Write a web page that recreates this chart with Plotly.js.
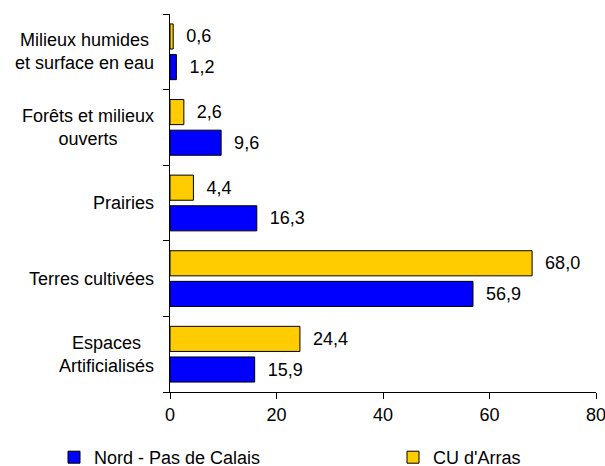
<!DOCTYPE html>
<html>
<head>
<meta charset="utf-8">
<script src="https://cdn.plot.ly/plotly-3.0.1.min.js"></script>
<style>html,body{margin:0;padding:0;background:#fff;}#chart{width:605px;height:466px;}</style>
</head>
<body>
<div id="chart"></div>
<script>
// Categories listed bottom to top
var categories = ["Espaces<br>Artificialisés", "Terres cultivées", "Prairies", "Forêts et milieux<br>ouverts", "Milieux humides<br>et surface en eau"];
var nordValues = [15.9, 56.9, 16.3, 9.6, 1.2];
var arrasValues = [24.4, 68.0, 4.4, 2.6, 0.6];
var seriesNames = ["Nord - Pas de Calais", "CU d'Arras"];
var xTicks = [0, 20, 40, 60, 80];

var FONT = "Liberation Sans, Arial, sans-serif";

var traces = [
  {
    type: "bar", orientation: "h", name: seriesNames[0], legend: "legend",
    y: categories, x: nordValues,
    marker: {color: "#0000FF", line: {color: "#000000", width: 1}},
    texttemplate: "  %{x:.1f}", textposition: "outside", cliponaxis: false,
    textfont: {family: FONT, size: 18, color: "#000"}
  },
  {
    type: "bar", orientation: "h", name: seriesNames[1], legend: "legend2",
    y: categories, x: arrasValues,
    marker: {color: "#FFCC00", line: {color: "#000000", width: 1}},
    texttemplate: "  %{x:.1f}", textposition: "outside", cliponaxis: false,
    textfont: {family: FONT, size: 18, color: "#000"}
  }
];

var annotations = categories.map(function (c) {
  return {
    xref: "paper", yref: "y", x: 0, y: c, xanchor: "right", yanchor: "middle",
    xshift: -14, text: c, showarrow: false, align: "center",
    font: {family: FONT, size: 18, color: "#000"}
  };
});

function legendAt(xpx) {
  return {
    orientation: "h", xref: "container", x: xpx / 605, xanchor: "left",
    yref: "container", y: 27 / 466, yanchor: "top",
    bgcolor: "rgba(0,0,0,0)",
    font: {family: FONT, size: 18, color: "#000"}
  };
}

var layout = {
  width: 605, height: 466,
  margin: {l: 170, r: 9, t: 14, b: 74, pad: 0, autoexpand: false},
  paper_bgcolor: "#fff", plot_bgcolor: "#fff",
  separators: ", ",
  barmode: "group", bargap: 0.19, bargroupgap: 0.18,
  font: {family: FONT, size: 18, color: "#000"},
  xaxis: {
    range: [0, 80], tickvals: xTicks, ticktext: xTicks.map(String),
    showgrid: false, zeroline: false, showline: true, linecolor: "#000", linewidth: 1,
    ticks: "outside", ticklen: 6, tickcolor: "#000", ticklabeloverflow: "allow",
    tickfont: {family: FONT, size: 18, color: "#000"}
  },
  yaxis: {
    showticklabels: false, showgrid: false, zeroline: false,
    showline: true, linecolor: "#000", linewidth: 1,
    ticks: "outside", ticklen: 6, tickcolor: "#000", tickson: "boundaries"
  },
  showlegend: true,
  legend: legendAt(54),
  legend2: legendAt(393),
  annotations: annotations
};

Plotly.newPlot("chart", traces, layout, {displayModeBar: false, staticPlot: true});
</script>
</body>
</html>
